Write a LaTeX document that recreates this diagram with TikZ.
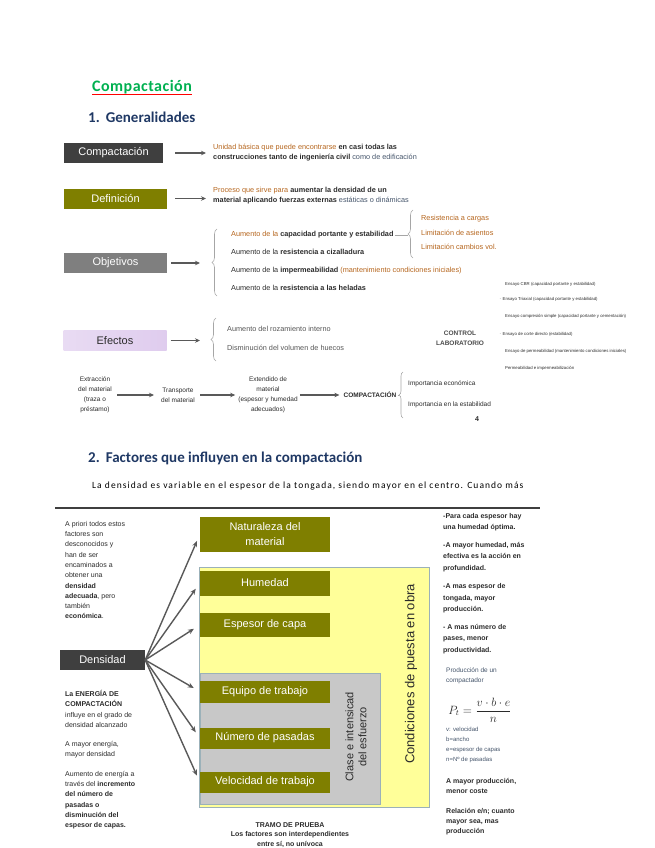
\documentclass[tikz,border=0pt]{standalone}
\usepackage{fontspec}
\setmainfont{Liberation Sans}
\newfontfamily\calibri{Carlito}
\newfontfamily\calibrisp[LetterSpace=11]{Carlito}
\newfontfamily\calibrititle[LetterSpace=3]{Carlito}
\usepackage{amsmath}
\usetikzlibrary{arrows.meta,positioning,calc,decorations.pathreplacing}
\definecolor{darkbox}{HTML}{3F3F3F}
\definecolor{factor}{HTML}{7F7F00}
\definecolor{midgray}{HTML}{7F7F7F}
\definecolor{effect}{HTML}{DFCCEE}
\definecolor{heading}{HTML}{1F3864}
\definecolor{titlegreen}{HTML}{00B050}
\definecolor{accent}{HTML}{B5651D}
\definecolor{ink}{HTML}{2B2B2B}
\definecolor{note}{HTML}{44546A}
\definecolor{obra}{HTML}{FFFF99}
\definecolor{esfuerzo}{HTML}{C8C8C8}
\definecolor{frame}{HTML}{9BB1B9}
\definecolor{arrowgray}{HTML}{595959}
\newcommand{\fsz}[2]{\fontsize{#1}{#2}\selectfont}

\begin{document}
\begin{tikzpicture}[x=1pt,y=-1pt,
  box/.style={minimum width=103pt,minimum height=20pt,inner sep=0pt,font=\fsz{11}{12}},
  factorbox/.style={fill=factor,text=white,minimum width=130pt,inner sep=0pt,align=center,font=\fsz{11}{15}},
  smalltext/.style={font=\fsz{7.3}{10},text=ink,inner sep=1pt,align=left},
  labtext/.style={anchor=west,inner sep=0pt,font=\fsz{4.3}{5},text=ink},
  arr/.style={-{Stealth[length=5pt,width=4.5pt]},line width=1.3pt,arrowgray},
  farr/.style={-{Stealth[length=6pt,width=5pt]},line width=1.4pt,arrowgray,shorten >=7pt},
  bracket/.style={decorate,decoration={brace,amplitude=5pt},line width=0.6pt,gray!70}]
  \useasboundingbox (0,0) rectangle (655,848);

  % Titles
  \node[anchor=base west,inner sep=0pt,font=\calibrititle\bfseries\fsz{16}{17},text=titlegreen] (title) at (92,92) {Compactación};
  \draw[red,line width=0.9pt] ([yshift=-2.5pt]title.base west) -- ([yshift=-2.5pt]title.base east);
  \node[anchor=base west,inner sep=0pt,font=\calibri\bfseries\fsz{15}{16},text=heading] (gen) at (88,122) {1.\hspace{6pt}Generalidades};

  % Generalidades
  \node[box,fill=darkbox,text=white,minimum width=99pt] (comp) at (113.5,153) {Compactación};
  \node[smalltext,anchor=west] (comptxt) at (212,153) {{\color{accent}Unidad básica que puede encontrarse} \textbf{en casi todas las}\\\textbf{construcciones tanto de ingeniería civil} {\color{note}como de edificación}};
  \draw[arr,shorten <=12pt,shorten >=6pt] (comp) -- (comp -| comptxt.west);

  \node[box,fill=factor,text=white] (def) at (115.5,198.5) {Definición};
  \node[smalltext,anchor=west] (deftxt) at (212,196) {{\color{accent}Proceso que sirve para} \textbf{aumentar la densidad de un}\\\textbf{material aplicando fuerzas externas} {\color{note}estáticas o dinámicas}};
  \draw[arr,shorten <=8pt,shorten >=6pt] (def) -- (def -| deftxt.west);

  \node[box,fill=midgray,text=white] (obj) at (115.5,263) {Objetivos};
  \coordinate (objtip) at (212,262);
  \draw[arr,shorten <=4pt,shorten >=12pt] (obj) -- (obj -| objtip);
  \draw[bracket] (217,296) -- (217,229);
  \node[smalltext,anchor=west] (o1) at (230,235) {{\color{accent}Aumento de la} \textbf{capacidad portante y estabilidad}};
  \node[smalltext,anchor=west] (o2) at (230,252) {Aumento de la \textbf{resistencia a cizalladura}};
  \node[smalltext,anchor=west] (o3) at (230,271) {Aumento de la \textbf{impermeabilidad} {\color{accent}(mantenimiento condiciones iniciales)}};
  \node[smalltext,anchor=west] (o4) at (230,288) {Aumento de la \textbf{resistencia a las heladas}};

  \coordinate (subtip) at (408,235);
  \draw[gray!70,line width=0.6pt] (o1.east) -- (subtip);
  \draw[bracket] (413,258) -- (413,210);
  \node[smalltext,anchor=west,text=accent] (r1) at (420,219) {Resistencia a cargas};
  \node[smalltext,anchor=west,text=accent] (r2) at (420,233) {Limitación de asientos};
  \node[smalltext,anchor=west,text=accent] (r3) at (420,247) {Limitación cambios vol.};

  \node[box,left color=effect!70,right color=effect,text=ink] (efe) at (115,340.5) {Efectos};
  \coordinate (efetip) at (211,340);
  \draw[arr,shorten <=4pt,shorten >=11pt] (efe) -- (efe -| efetip);
  \draw[bracket] (216,361) -- (216,318);
  \node[smalltext,anchor=west,text=ink!80] (e1) at (226,329) {Aumento del rozamiento interno};
  \node[smalltext,anchor=west,text=ink!80] (e2) at (226,348) {Disminución del volumen de huecos};

  % Control de laboratorio
  \node[font=\bfseries\fsz{6.5}{10},text=ink!85,align=center] (lab) at (460,338) {CONTROL\\LABORATORIO};
  \node[labtext] (l1) at (505,284) {Ensayo CBR (capacidad portante y estabilidad)};
  \node[labtext] (l2) at (499,299) {$\cdot$ Ensayo Triaxial (capacidad portante y estabilidad)};
  \node[labtext] (l3) at (505,316) {Ensayo compresión simple (capacidad portante y cementación)};
  \node[labtext] (l4) at (499,334) {$\cdot$ Ensayo de corte directo (estabilidad)};
  \node[labtext] (l5) at (505,351) {Ensayo de permeabilidad (mantenimiento condiciones iniciales)};
  \node[labtext] (l6) at (505,368) {Permeabilidad e impermeabilización};

  % Proceso
  \node[smalltext,align=center,font=\fsz{6.5}{10}] (ext) at (95,395) {Extracción\\del material\\(traza o\\préstamo)};
  \node[smalltext,align=center,font=\fsz{6.5}{10}] (tra) at (178,395) {Transporte\\del material};
  \node[smalltext,align=center,font=\fsz{6.5}{10}] (ext2) at (268,395) {Extendido de\\material\\(espesor y humedad\\adecuados)};
  \node[smalltext,font=\bfseries\fsz{6.5}{10}] (cmp) at (370,395) {COMPACTACIÓN};
  \draw[arr,line width=1.1pt,shorten <=4pt,shorten >=6pt] (ext) -- (tra);
  \draw[arr,line width=1.1pt,shorten <=4pt,shorten >=2pt] (tra) -- (ext2);
  \draw[arr,line width=1.1pt,shorten <=1pt,shorten >=3pt] (ext2) -- (cmp);
  \coordinate (cmptip) at (399,395);
  \draw[gray!70,line width=0.6pt] (cmp.east) -- (cmptip);
  \draw[bracket,decoration={amplitude=4pt}] (403,418) -- (403,372);
  \node[smalltext,anchor=west,font=\fsz{6.5}{10}] (i1) at (407,384) {Importancia económica};
  \node[smalltext,anchor=west,font=\fsz{6.5}{10}] (i2) at (407,405) {Importancia en la estabilidad};
  \node[font=\bfseries\fsz{7}{8},text=ink] (pg) at (477,419) {4};

  % Factores
  \node[anchor=base west,inner sep=0pt,font=\calibri\bfseries\fsz{15}{16},text=heading] (fac) at (88,462) {2.\hspace{6pt}Factores que influyen en la compactación};
  \node[anchor=base west,inner sep=0pt,font=\calibrisp\fsz{9.5}{11},text=black] (par) at (92,488) {La densidad es variable en el espesor de la tongada, siendo mayor en el centro. Cuando más};
  \draw[darkbox,line width=2pt] (55,508) -- (540,508);

  \fill[obra,draw=frame,line width=1pt] (199,567) rectangle (429,807);
  \fill[esfuerzo,draw=frame,line width=1pt] (200,673) rectangle (380,804);

  \node[factorbox,minimum height=35pt] (nat) at (265,534.5) {Naturaleza del\\material};
  \node[factorbox,minimum height=25pt] (hum) at (265,583) {Humedad};
  \node[factorbox,minimum height=24pt] (esp) at (265,625) {Espesor de capa};
  \node[factorbox,minimum height=22pt] (equ) at (265,691.5) {Equipo de trabajo};
  \node[factorbox,minimum height=21pt] (num) at (265,738) {Número de pasadas};
  \node[factorbox,minimum height=21pt] (vel) at (265,782) {Velocidad de trabajo};

  \node[rotate=90,align=center,font=\fsz{11}{13},text=ink] (clase) at (356,737) {Clase e intensicad\\del esfuerzo};
  \node[rotate=90,font=\fsz{13}{15},text=ink] (cond) at (411,674) {Condiciones de puesta en obra};

  \node[box,fill=darkbox,text=white,minimum width=85pt] (dens) at (102.5,660) {Densidad};
  \foreach \f in {nat,hum,esp,equ,num,vel}
    \draw[farr] (dens.east) -- (\f.west);

  % Notas
  \node[smalltext,anchor=north west,font=\fsz{7}{10.3}] (apriori) at (64,520) {A priori todos estos\\factores son\\desconocidos y\\han de ser\\encaminados a\\obtener una\\\textbf{densidad}\\\textbf{adecuada}, pero\\también\\\textbf{económica}.};
  \node[smalltext,anchor=north west,font=\fsz{7}{10.3}] (energia) at (64,689) {\textbf{La ENERGÍA DE}\\\textbf{COMPACTACIÓN}\\influye en el grado de\\densidad alcanzado\\[9pt]A mayor energía,\\mayor densidad\\[9pt]Aumento de energía a\\través del \textbf{incremento}\\\textbf{del número de}\\\textbf{pasadas o}\\\textbf{disminución del}\\\textbf{espesor de capas.}};

  \node[smalltext,anchor=north west,font=\bfseries\fsz{7}{11.5}] (notas) at (442,512) {-Para cada espesor hay\\una humedad óptima.\\[6pt]-A mayor humedad, más\\efectiva es la acción en\\profundidad.\\[7pt]-A mas espesor de\\tongada, mayor\\producción.\\[6pt]- A mas número de\\pases, menor\\productividad.};
  \node[smalltext,anchor=north west,font=\fsz{6.5}{10},text=note] (prod) at (445,667) {Producción de un\\compactador};
  \node[font=\fsz{12}{14},text=ink] (form) at (480,710) {$P_t=\dfrac{v\cdot b\cdot e}{n}$};
  \node[smalltext,anchor=north west,font=\fsz{6}{10},text=note] (leyenda) at (445,726) {v: velocidad\\b=ancho\\e=espesor de capas\\n=Nº de pasadas};
  \node[smalltext,anchor=north west,font=\bfseries\fsz{7}{10}] (coste) at (445,777) {A mayor producción,\\menor coste\\[10pt]Relación e/n; cuanto\\mayor sea, mas\\producción};

  \node[smalltext,align=center,font=\bfseries\fsz{7}{9.5}] (tramo) at (290,835) {TRAMO DE PRUEBA\\Los factores son interdependientes\\entre sí, no unívoca};
\end{tikzpicture}
\end{document}
